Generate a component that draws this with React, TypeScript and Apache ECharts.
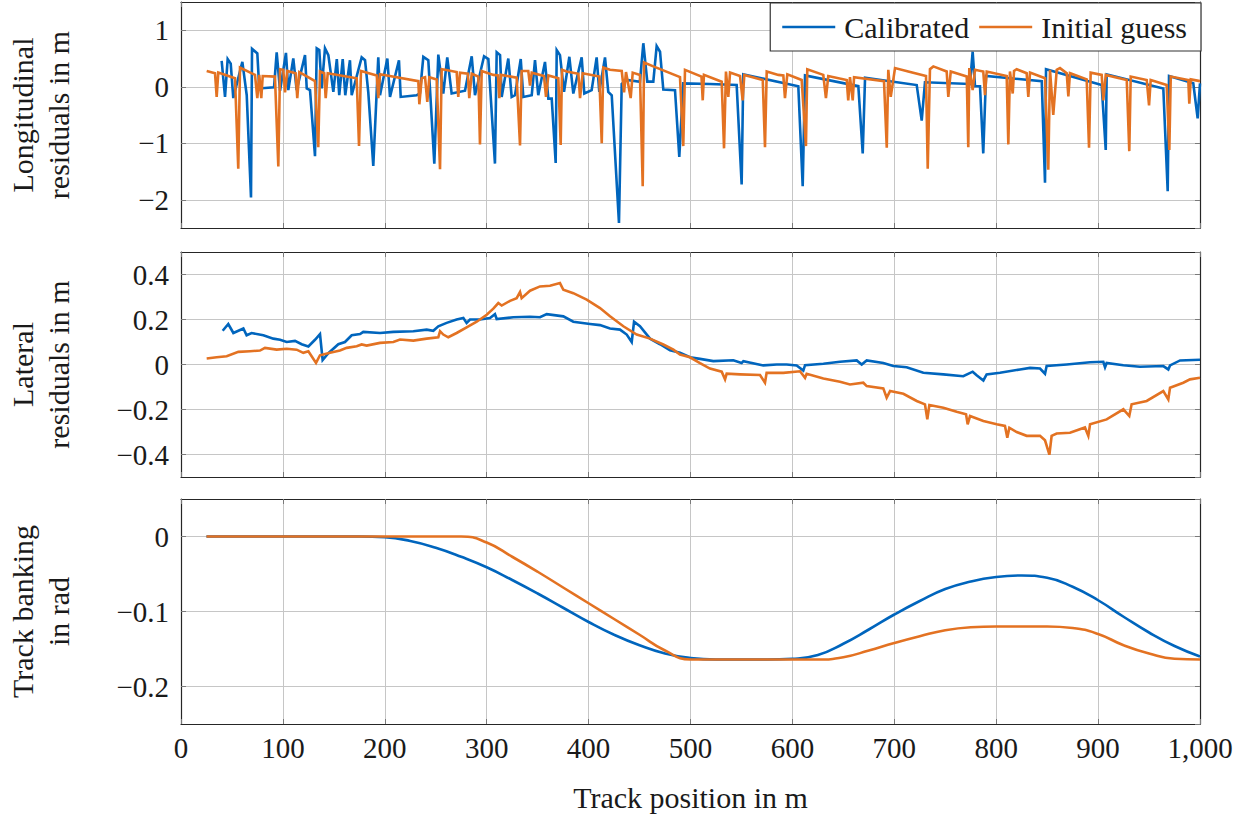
import React, { useEffect, useRef } from 'react';
import * as echarts from 'echarts';

// ---- series colours and fonts ----
const BLUE = '#0065BD';
const ORANGE = '#E37222';
const FONT = 'Liberation Serif';
const TEXT = '#1a1a1a';

// ---- longitudinal residuals in m: [track position m, residual] ----
const calLongitudinal: number[][] = [
  [39.9, 0.46], [43.2, -0.18], [45.8, 0.49], [48.8, 0.41], [51.3, -0.2], [60.2, 0.44], [64.5, -0.15],
  [68.7, -1.96], [69.7, 0.67], [74.9, 0.59], [76.8, -0.03], [91.3, -0.01], [93.9, 0.61], [97.2, -0.07],
  [103.0, 0.6], [105.3, -0.06], [110.2, 0.5], [113.5, -0.06], [121.7, 0.56], [123.4, -0.03], [126.6, -0.06],
  [131.5, -1.23], [133.2, 0.68], [135.7, 0.65], [138.1, -0.03], [141.3, 0.68], [144.6, 0.56], [149.5, -0.09],
  [152.9, 0.49], [155.3, -0.15], [158.7, 0.49], [161.2, -0.15], [165.8, 0.47], [167.5, -0.15], [177.3, 0.52],
  [180.6, 0.47], [183.8, -0.1], [188.7, -1.4], [193.6, 0.52], [195.3, -0.15], [202.5, 0.5], [205.1, -0.18],
  [213.9, 0.47], [215.6, -0.18], [231.3, -0.15], [234.5, -0.11], [237.8, 0.53], [242.7, 0.47], [248.6, -1.36],
  [252.5, 0.57], [257.4, -0.12], [261.3, 0.52], [265.6, -0.12], [278.7, -0.07], [285.3, 0.54], [288.5, -0.15],
  [297.4, 0.54], [301.6, 0.49], [308.1, -1.36], [309.8, 0.61], [313.1, 0.56], [314.7, -0.18], [321.2, 0.5],
  [324.5, -0.18], [327.8, -0.15], [333.4, 0.49], [335.9, -0.18], [344.2, -0.15], [347.4, 0.47], [350.6, -0.15],
  [357.2, 0.44], [360.5, -0.21], [363.8, -0.21], [367.7, -1.35], [368.7, 0.65], [371.9, 0.56], [375.9, -0.09],
  [381.1, 0.53], [385.0, -0.12], [393.2, 0.52], [395.8, -0.12], [403.0, -0.06], [407.9, 0.52], [410.5, -0.09],
  [416.1, 0.52], [419.3, -0.09], [422.7, -0.15], [429.8, -2.41], [432.5, 0.05], [437.4, 0.12], [450.4, 0.09],
  [453.7, 0.77], [457.6, 0.09], [463.5, 0.09], [466.8, 0.72], [470.1, 0.62], [473.3, -0.05], [484.8, -0.06],
  [489.0, -1.24], [492.9, 0.06], [519.1, 0.05], [545.3, 0.03], [550.2, -1.73], [551.8, 0.22], [605.8, 0.01],
  [610.1, -1.76], [612.4, 0.2], [664.7, 0.01], [669.0, -1.18], [671.3, 0.16], [722.0, 0.03], [726.9, -0.6],
  [730.1, 0.08], [774.3, 0.05], [776.9, 0.62], [779.2, 0.01], [784.1, 0.01], [787.3, -1.18], [790.0, 0.19],
  [844.7, 0.1], [847.9, -1.7], [848.9, 0.31], [903.5, 0.03], [907.5, -1.12], [908.4, 0.22], [964.0, -0.03],
  [968.3, -1.85], [969.6, 0.19], [993.4, 0.06], [997.7, -0.56], [1000, 0.06],
];

const initLongitudinal: number[][] = [
  [25.2, 0.28], [33.4, 0.24], [35.0, -0.18], [36.6, 0.25], [53.0, 0.15], [56.2, -1.45], [57.9, 0.34],
  [72.6, 0.21], [74.9, -0.2], [76.8, 0.21], [78.8, -0.2], [80.2, 0.19], [92.2, 0.18], [95.5, -1.41],
  [97.2, 0.31], [100.4, 0.3], [102.1, -0.1], [104.3, 0.28], [112.5, 0.24], [114.1, -0.2], [116.1, 0.26],
  [131.5, 0.1], [134.7, -1.07], [136.4, 0.27], [140.5, 0.24], [142.0, -0.2], [144.0, 0.24], [172.4, 0.15],
  [174.7, -1.05], [176.6, 0.28], [192.1, 0.2], [193.6, -0.2], [195.3, 0.22], [232.9, 0.1], [233.9, -0.31],
  [236.2, 0.15], [239.5, 0.17], [241.7, -0.27], [243.7, 0.17], [250.9, 0.13], [254.2, -1.46], [255.8, 0.31],
  [259.1, 0.3], [270.5, 0.26], [272.1, -0.18], [273.8, 0.25], [281.5, 0.23], [282.9, -0.2], [285.3, 0.23],
  [291.8, 0.18], [293.4, -1.02], [295.1, 0.28], [306.5, 0.21], [311.0, 0.2], [312.4, -0.2], [314.0, 0.21],
  [329.4, 0.16], [332.7, -1.04], [334.3, 0.28], [340.8, 0.28], [342.5, 0.02], [344.2, 0.25], [356.2, 0.19],
  [358.2, -0.18], [360.5, 0.2], [370.3, 0.15], [372.6, -1.03], [373.9, 0.3], [378.5, 0.27], [390.0, 0.23],
  [391.6, -0.2], [394.2, 0.24], [410.5, 0.18], [412.9, -1.0], [414.4, 0.34], [421.0, 0.3], [432.5, 0.28],
  [434.8, -0.1], [436.7, 0.26], [441.3, -0.2], [443.3, 0.25], [450.4, 0.21], [453.1, -1.76], [454.4, 0.43],
  [463.5, 0.36], [489.7, 0.17], [492.9, -1.05], [494.6, 0.3], [510.8, 0.18], [512.0, -0.24], [513.2, 0.21],
  [530.6, 0.09], [532.9, -1.09], [534.8, 0.27], [537.1, -0.18], [538.8, 0.25], [548.6, 0.19], [551.2, -0.24],
  [552.8, 0.21], [570.9, 0.12], [573.1, -1.07], [574.8, 0.27], [586.2, 0.21], [591.1, 0.2], [592.7, -0.2],
  [595.0, 0.22], [609.1, 0.12], [613.3, -1.05], [614.6, 0.31], [630.3, 0.21], [632.9, -0.2], [635.2, 0.19],
  [653.3, 0.12], [654.8, -0.24], [656.5, 0.17], [659.2, -0.24], [660.5, 0.17], [689.9, 0.1], [692.6, -1.08],
  [694.1, 0.3], [696.5, -0.18], [700.7, 0.33], [713.7, 0.27], [731.1, 0.19], [732.8, -1.45], [735.0, 0.31],
  [738.3, 0.36], [751.4, 0.27], [753.0, -0.18], [755.4, 0.27], [771.1, 0.18], [772.6, -1.07], [773.6, 0.33],
  [776.9, -0.06], [779.2, 0.3], [787.3, 0.27], [789.0, -0.15], [790.7, 0.27], [810.3, 0.19], [811.9, -1.02],
  [813.5, 0.27], [816.2, -0.12], [817.5, 0.28], [820.1, 0.31], [829.9, 0.24], [831.5, -0.18], [833.2, 0.25],
  [847.9, 0.15], [851.1, -1.47], [852.8, 0.3], [856.0, -0.5], [859.4, 0.3], [862.6, 0.33], [869.2, 0.24],
  [870.8, -0.17], [872.4, 0.24], [888.8, 0.13], [891.1, -1.08], [892.7, 0.25], [903.5, 0.21], [905.1, -0.24],
  [907.5, 0.21], [928.1, 0.12], [930.6, -1.14], [932.0, 0.18], [947.7, 0.12], [950.0, -0.33], [951.6, 0.12],
  [967.3, 0.03], [969.9, -1.12], [971.3, 0.18], [988.5, 0.12], [989.5, -0.3], [990.9, 0.13], [1000, 0.1],
];

// ---- lateral residuals in m ----
const calLateral: number[][] = [
  [40.9, 0.15], [46.4, 0.18], [51.4, 0.14], [61.2, 0.16], [64.4, 0.13], [69.3, 0.14], [80.8, 0.13],
  [90.6, 0.115], [97.2, 0.11], [103.7, 0.1], [111.9, 0.105], [118.4, 0.09], [125.0, 0.08], [131.5, 0.11],
  [136.4, 0.135], [139.0, 0.02], [144.6, 0.05], [154.4, 0.09], [160.9, 0.1], [167.5, 0.13], [175.7, 0.135],
  [178.9, 0.145], [195.3, 0.14], [208.4, 0.145], [228.0, 0.148], [241.1, 0.155], [247.6, 0.15], [252.5, 0.17],
  [260.7, 0.185], [270.5, 0.2], [277.1, 0.207], [280.3, 0.185], [283.6, 0.2], [293.4, 0.2], [303.2, 0.207],
  [308.1, 0.224], [309.8, 0.202], [326.1, 0.21], [342.5, 0.212], [352.3, 0.21], [358.9, 0.224], [375.2, 0.214],
  [385.0, 0.19], [401.4, 0.18], [411.2, 0.175], [421.0, 0.16], [430.8, 0.155], [437.4, 0.133], [442.3, 0.1],
  [444.6, 0.19], [450.4, 0.17], [460.3, 0.115], [470.1, 0.09], [479.9, 0.063], [489.7, 0.052], [499.5, 0.032],
  [509.3, 0.025], [522.4, 0.015], [542.0, 0.019], [550.2, 0.007], [551.9, 0.015], [571.5, -0.004], [584.6, 0],
  [594.4, 0], [604.2, -0.004], [610.7, -0.027], [612.4, -0.003], [630.4, 0.003], [646.7, 0.012], [663.1, 0.018],
  [668.0, 0], [672.9, 0.018], [689.2, 0.007], [699.0, -0.007], [712.1, -0.012], [728.5, -0.037], [748.1, -0.044],
  [767.7, -0.052], [776.9, -0.032], [780.8, -0.048], [787.4, -0.071], [790.6, -0.044], [803.7, -0.037],
  [823.4, -0.022], [833.2, -0.015], [843.0, -0.018], [847.9, -0.041], [849.5, -0.007], [869.2, 0], [892.1, 0.01],
  [905.1, 0.012], [906.8, -0.012], [908.4, 0.007], [924.8, -0.003], [941.1, -0.01], [964.0, -0.007],
  [968.9, -0.022], [970.6, -0.004], [980.4, 0.018], [1000, 0.021],
];

const initLateral: number[][] = [
  [25.2, 0.027], [35.0, 0.032], [44.8, 0.037], [56.3, 0.056], [67.7, 0.059], [77.5, 0.062], [82.4, 0.074],
  [93.9, 0.066], [103.7, 0.07], [113.5, 0.066], [120.0, 0.052], [125.0, 0.059], [132.5, 0.007], [136.4, 0.041],
  [146.2, 0.052], [156.0, 0.062], [162.6, 0.074], [172.4, 0.081], [177.3, 0.089], [182.2, 0.084], [195.3, 0.096],
  [208.4, 0.1], [214.9, 0.111], [228.0, 0.106], [241.1, 0.115], [252.5, 0.121], [254.2, 0.148], [257.4, 0.133],
  [262.3, 0.121], [270.5, 0.14], [280.3, 0.165], [290.2, 0.19], [300.0, 0.221], [306.5, 0.248], [311.4, 0.273],
  [314.7, 0.262], [322.9, 0.283], [329.4, 0.295], [332.7, 0.322], [334.3, 0.295], [342.5, 0.328], [352.3, 0.347],
  [362.1, 0.35], [371.9, 0.362], [375.2, 0.332], [385.0, 0.317], [398.1, 0.288], [411.2, 0.251], [421.0, 0.214],
  [434.1, 0.17], [447.2, 0.133], [460.3, 0.115], [473.3, 0.089], [483.2, 0.066], [489.7, 0.044], [499.5, 0.032],
  [509.3, 0.006], [519.1, -0.018], [530.6, -0.032], [533.9, -0.066], [535.5, -0.041], [548.6, -0.044],
  [568.2, -0.047], [573.1, -0.081], [574.7, -0.037], [591.1, -0.037], [607.5, -0.03], [612.4, -0.059],
  [614.0, -0.041], [630.4, -0.062], [646.7, -0.077], [656.5, -0.089], [669.6, -0.081], [672.9, -0.096],
  [689.2, -0.106], [692.5, -0.148], [695.8, -0.118], [708.9, -0.13], [722.0, -0.162], [730.1, -0.177],
  [732.4, -0.244], [734.4, -0.18], [748.1, -0.192], [761.2, -0.21], [770.4, -0.221], [772.0, -0.266],
  [774.3, -0.229], [787.4, -0.251], [800.5, -0.266], [808.6, -0.273], [810.9, -0.325], [812.9, -0.281],
  [820.1, -0.3], [829.9, -0.317], [843.0, -0.317], [847.9, -0.337], [852.2, -0.401], [854.4, -0.317],
  [859.3, -0.307], [872.4, -0.303], [887.1, -0.28], [890.4, -0.317], [892.1, -0.266], [908.4, -0.244],
  [924.8, -0.199], [930.6, -0.229], [932.9, -0.177], [947.7, -0.162], [964.0, -0.118], [968.9, -0.155],
  [970.6, -0.103], [983.6, -0.081], [990.2, -0.066], [1000, -0.059],
];

// ---- track banking in rad ----
const bankingPos = [
  25, 50, 75, 100, 125, 150, 175, 200, 225, 250, 275, 300, 325, 350, 375, 400, 425, 450, 475, 500,
  525, 550, 575, 600, 625, 650, 675, 700, 725, 750, 775, 800, 825, 850, 875, 900, 925, 950, 975, 1000,
];
const calBanking = [
  0, 0, 0, 0, 0, 0, 0, -0.001, -0.006, -0.015, -0.027, -0.041, -0.058, -0.076, -0.095, -0.114, -0.131, -0.145, -0.156, -0.162,
  -0.164, -0.164, -0.164, -0.163, -0.158, -0.143, -0.124, -0.104, -0.086, -0.07, -0.06, -0.054, -0.052, -0.055, -0.067, -0.085, -0.107, -0.128, -0.146, -0.16,
];
const initBanking = [
  0, 0, 0, 0, 0, 0, 0, 0, 0, 0, 0, -0.008, -0.027, -0.047, -0.068, -0.089, -0.11, -0.131, -0.152, -0.164,
  -0.164, -0.164, -0.164, -0.164, -0.164, -0.161, -0.152, -0.142, -0.133, -0.125, -0.121, -0.12, -0.12, -0.12, -0.122, -0.13, -0.145, -0.156, -0.163, -0.164,
];

const xTickValues = { min: 0, max: 1000, interval: 100 };
const seriesNames = ['Calibrated', 'Initial guess'];

// panel geometry and value ranges
const panels = [
  { top: 2, height: 226, min: -2.5, max: 1.5, splitNumber: 4, step: 1, dec: 0,
    title: 'Longitudinal\nresiduals in m', cal: calLongitudinal, init: initLongitudinal, smooth: false },
  { top: 252, height: 225, min: -0.5, max: 0.5, splitNumber: 5, step: 0.2, dec: 1,
    title: 'Lateral\nresiduals in m', cal: calLateral, init: initLateral, smooth: false },
  { top: 499, height: 225, min: -0.25, max: 0.05, splitNumber: 3, step: 0.1, dec: 1,
    title: 'Track banking\nin rad',
    cal: bankingPos.map((x, i) => [x, calBanking[i]]),
    init: bankingPos.map((x, i) => [x, initBanking[i]]), smooth: true },
];

const LEFT = 181;
const WIDTH = 1019;

const tickStyle = { show: true, inside: true, length: 5, lineStyle: { color: '#7a7a7a', width: 1 } };
const frameLine = { show: true, onZero: false, lineStyle: { color: '#262626', width: 1.2 } };

// serif face for every text node the SVG renderer writes
const fontCss = `#residual-chart svg text, #residual-chart svg tspan { font-family: 'Liberation Serif', serif !important; }`;

function fmtValue(step: number, dec: number) {
  return (v: number) => {
    const k = v / step;
    if (Math.abs(k - Math.round(k)) > 1e-6) return '';
    const r = Math.round(k) * step;
    if (Math.abs(r) < 1e-9) return '0';
    const s = Math.abs(r).toFixed(dec);
    return r < 0 ? '\u2212' + s : s;
  };
}

export default function App() {
  const ref = useRef<HTMLDivElement>(null);

  useEffect(() => {
    if (!ref.current) return;
    const chart = echarts.init(ref.current, undefined, { renderer: 'svg' });

    const grid: any[] = [];
    const xAxis: any[] = [];
    const yAxis: any[] = [];
    const series: any[] = [];
    const graphic: any[] = [];

    panels.forEach((p, i) => {
      grid.push({ left: LEFT, top: p.top, width: WIDTH, height: p.height });
      const last = i === panels.length - 1;
      xAxis.push({
        type: 'value', gridIndex: i, position: 'bottom', ...xTickValues,
        axisLine: frameLine, axisTick: tickStyle,
        splitLine: { show: true, lineStyle: { color: '#c6c6c6', width: 1 } },
        axisLabel: {
          show: last, margin: 9, fontFamily: FONT, fontSize: 29, color: TEXT,
          formatter: (v: number) => (v >= 1000 ? '1,000' : String(v)),
        },
      });
      xAxis.push({
        type: 'value', gridIndex: i, position: 'top', ...xTickValues,
        axisLine: frameLine, axisTick: tickStyle, splitLine: { show: false }, axisLabel: { show: false },
      });
      yAxis.push({
        type: 'value', gridIndex: i, position: 'left', min: p.min, max: p.max, splitNumber: p.splitNumber,
        axisLine: frameLine, axisTick: tickStyle,
        splitLine: { show: true, lineStyle: { color: '#c6c6c6', width: 1 } },
        axisLabel: {
          show: true, margin: 12, fontFamily: FONT, fontSize: 29, color: TEXT,
          showMinLabel: false, showMaxLabel: false, formatter: fmtValue(p.step, p.dec),
        },
      });
      yAxis.push({
        type: 'value', gridIndex: i, position: 'right', min: p.min, max: p.max, splitNumber: p.splitNumber,
        axisLine: frameLine, axisTick: tickStyle, splitLine: { show: false }, axisLabel: { show: false },
      });

      [p.cal, p.init].forEach((data, k) => {
        const color = k === 0 ? BLUE : ORANGE;
        series.push({
          name: seriesNames[k], type: 'line', xAxisIndex: 2 * i, yAxisIndex: 2 * i,
          data, showSymbol: false, symbol: 'none', smooth: p.smooth ? 0.5 : false,
          color, lineStyle: { color, width: 2.6, join: 'miter' }, itemStyle: { color },
          clip: true, z: 2 + k,
        });
      });

      graphic.push({
        type: 'text', x: 40, y: p.top + p.height / 2, rotation: Math.PI / 2,
        style: {
          text: p.title, fill: TEXT, fontFamily: FONT, fontSize: 30, lineHeight: 36,
          align: 'center', verticalAlign: 'middle',
        },
      });
    });

    graphic.push({
      type: 'text', x: LEFT + WIDTH / 2, y: 797,
      style: {
        text: 'Track position in m', fill: TEXT, fontFamily: FONT, fontSize: 30,
        align: 'center', verticalAlign: 'middle',
      },
    });

    chart.setOption({
      animation: false,
      backgroundColor: '#ffffff',
      textStyle: { fontFamily: FONT },
      grid, xAxis, yAxis, series, graphic,
      legend: {
        data: seriesNames, right: 51, top: 3, orient: 'horizontal',
        icon: 'rect', itemWidth: 53, itemHeight: 2.5, itemGap: 10,
        backgroundColor: '#ffffff', borderColor: '#333333', borderWidth: 1.2, borderRadius: 0,
        padding: [9, 14, 9, 12],
        textStyle: { fontFamily: FONT, fontSize: 30, color: TEXT, padding: [0, 0, 0, 4] },
        z: 10,
      },
    });

    return () => chart.dispose();
  }, []);

  return (
    <>
      <style>{fontCss}</style>
      <div
        id="residual-chart"
        ref={ref}
        style={{ position: 'absolute', left: 0, top: 0, width: 1252, height: 816 }}
      />
    </>
  );
}
